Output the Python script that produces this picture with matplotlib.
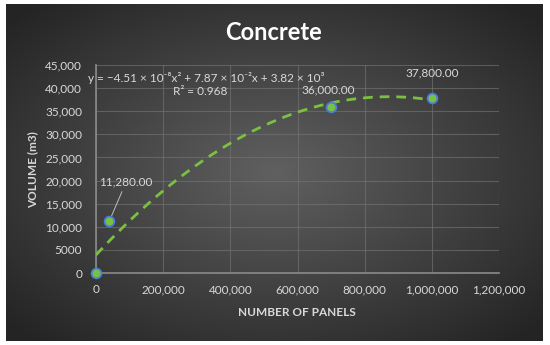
import numpy as np
import matplotlib
matplotlib.use("Agg")
import matplotlib.pyplot as plt

# Data
panels = [0, 40000, 700000, 1000000]
volume = [0, 11280, 36000, 37800]
point_labels = ["", "11,280.00", "36,000.00", "37,800.00"]
x_ticks = [0, 200000, 400000, 600000, 800000, 1000000, 1200000]
x_tick_labels = ["0", "200,000", "400,000", "600,000", "800,000", "1,000,000", "1,200,000"]
y_ticks = [0, 5000, 10000, 15000, 20000, 25000, 30000, 35000, 40000, 45000]
y_tick_labels = ["0", "5000", "10,000", "15,000", "20,000", "25,000", "30,000", "35,000", "40,000", "45,000"]
title = "Concrete"
x_label = "NUMBER OF PANELS"
y_label = "VOLUME (m3)"
equation = "y = \u22124.51 \u00d7 10\u207b\u2078x\u00b2 + 7.87 \u00d7 10\u207b\u00b2x + 3.82 \u00d7 10\u00b3"
r2_text = "R\u00b2 = 0.968"

FONT = ["Lato", "DejaVu Sans"]
plt.rcParams["font.family"] = FONT

W, H = 550, 345
fig = plt.figure(figsize=(W / 100, H / 100), dpi=100, facecolor="white")

# Background dark radial gradient panel
bx0, by0, bx1, by1 = 6, 4, 543, 341
bg = fig.add_axes([bx0 / W, 1 - by1 / H, (bx1 - bx0) / W, (by1 - by0) / H])
bg.set_axis_off()
gx, gy = np.meshgrid(np.linspace(-1, 1, 400), np.linspace(-1, 1, 250))
r = np.sqrt(gx ** 2 + gy ** 2)
r = np.clip(r / 1.35, 0, 1)
c0 = np.array([0x60, 0x60, 0x60]) / 255
c1 = np.array([0x24, 0x24, 0x24]) / 255
img = c0[None, None, :] * (1 - r[..., None]) + c1[None, None, :] * r[..., None]
bg.imshow(img, aspect="auto", extent=[0, 1, 0, 1])
bg.set_xlim(0, 1)
bg.set_ylim(0, 1)

# Main axes
L, R, T, B = 96, 499, 65, 273
ax = fig.add_axes([L / W, 1 - B / H, (R - L) / W, (B - T) / H])
ax.patch.set_alpha(0)
ax.set_xlim(0, 1200000)
ax.set_ylim(0, 45000)
ax.set_xticks(x_ticks)
ax.set_xticklabels(x_tick_labels)
ax.set_yticks(y_ticks)
ax.set_yticklabels(y_tick_labels)
ax.tick_params(colors="#d9d9d9", labelsize=8.5, length=0, pad=8)
ax.tick_params(axis="y", pad=10)
ax.grid(True, color="#737373", linewidth=0.8, alpha=0.65)
for s in ["top", "right"]:
    ax.spines[s].set_visible(False)
for s in ["left", "bottom"]:
    ax.spines[s].set_color("#8a8a8a")
    ax.spines[s].set_linewidth(1.2)

# Trendline (2nd-order polynomial fit of the data)
coef = np.polyfit(panels, volume, 2)
xt = np.linspace(0, max(panels), 200)
ax.plot(xt, np.polyval(coef, xt), color="#7ac143", linestyle=(0, (3.5, 2.5)), linewidth=2, zorder=3)

# Points
ax.plot(panels, volume, linestyle="none", marker="o", markersize=7,
        markerfacecolor="#7ac143", markeredgecolor="#4a7fd6", markeredgewidth=1.3, zorder=4, clip_on=False)

# Data labels
offsets = [(0, 0), (12, 24), (-2, 8), (0, 14)]
for xv, yv, lab, (dx, dy) in zip(panels, volume, point_labels, offsets):
    if not lab:
        continue
    if dy > 20:
        ax.annotate(lab, (xv, yv), xytext=(dx, dy), textcoords="offset points",
                    ha="center", va="bottom", color="#d9d9d9", fontsize=8.5,
                    arrowprops=dict(arrowstyle="-", color="#bfbfbf", lw=0.7, shrinkA=1, shrinkB=4))
    else:
        ax.annotate(lab, (xv, yv), xytext=(dx, dy), textcoords="offset points",
                    ha="center", va="bottom", color="#d9d9d9", fontsize=8.5)

# Equation text
fig.text(88 / W, 1 - 78 / H, equation, color="#d9d9d9", fontsize=8.5, ha="left", va="center")
fig.text(200 / W, 1 - 92 / H, r2_text, color="#d9d9d9", fontsize=8.5, ha="center", va="center")

# Titles
fig.text(274 / W, 1 - 33 / H, title, color="white", fontsize=17, fontweight="bold", ha="center", va="center")
fig.text(297 / W, 1 - 313 / H, x_label, color="#d9d9d9", fontsize=8.5, fontweight="bold", ha="center", va="center")
fig.text(33 / W, 1 - 170 / H, y_label, color="#d9d9d9", fontsize=8.5, fontweight="bold", ha="center", va="center", rotation=90)

fig.savefig("out.png", dpi=100, facecolor="white")
